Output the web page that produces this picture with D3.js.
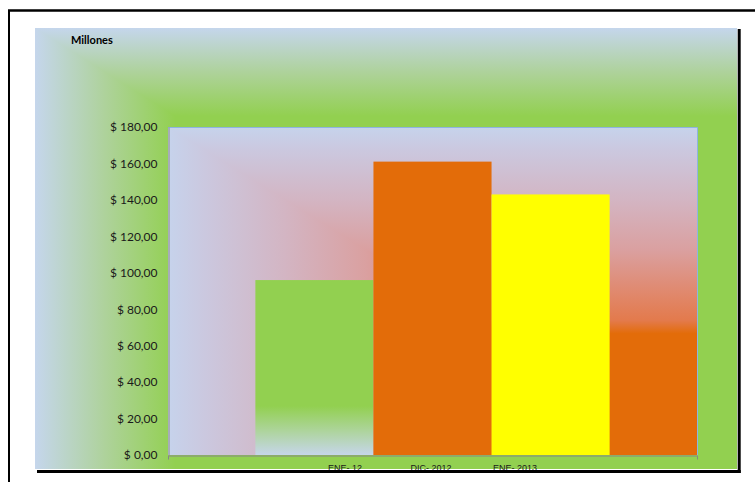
<!DOCTYPE html>
<html>
<head>
<meta charset="utf-8">
<script src="https://cdn.jsdelivr.net/npm/d3@7"></script>
<style>
  body { margin: 0; background: #fff; }
  svg { display: block; }
</style>
</head>
<body>
<svg id="chart" width="755" height="482"></svg>
<script>
// datos (millones)
var series = ["ENE- 12", "DIC- 2012", "ENE- 2013"];
var values = [96, 161, 143];
var barColors = ["#92d050", "#e36c09", "#ffff00"];
var yTicks = [0, 20, 40, 60, 80, 100, 120, 140, 160, 180];
var yTitle = "Millones";

var svg = d3.select("#chart");
var defs = svg.append("defs");

// chart area + plot area boxes
var ca = {x0: 35, y0: 28, x1: 737, y1: 469};
var pa = {x0: 168, y0: 127, x1: 697, y1: 455};

var es = d3.formatLocale({decimal: ",", thousands: ".", grouping: [3], currency: ["$ ", ""]});
var fmt = es.format("$.2f");

// rectangular gradient from bottom-right corner, done as 2 linear gradients
function rectGradient(id, box, stops) {
  var h = defs.append("linearGradient").attr("id", id + "H")
    .attr("gradientUnits", "userSpaceOnUse")
    .attr("x1", box.x1).attr("y1", 0).attr("x2", box.x0).attr("y2", 0);
  var v = defs.append("linearGradient").attr("id", id + "V")
    .attr("gradientUnits", "userSpaceOnUse")
    .attr("x1", 0).attr("y1", box.y1).attr("x2", 0).attr("y2", box.y0);
  [h, v].forEach(function(g) {
    g.selectAll("stop").data(stops).enter().append("stop")
      .attr("offset", function(d) { return d[0]; })
      .attr("stop-color", function(d) { return d[1]; });
  });
  svg.append("rect").attr("x", box.x0).attr("y", box.y0)
    .attr("width", box.x1 - box.x0).attr("height", box.y1 - box.y0)
    .attr("fill", "url(#" + id + "H)");
  svg.append("polygon")
    .attr("points", [[box.x0, box.y0], [box.x1, box.y0], [box.x1, box.y1]].join(" "))
    .attr("fill", "url(#" + id + "V)");
}

rectGradient("ca", ca, [[0, "#92d050"], [0.8, "#92d050"], [0.9, "#aed29b"], [1, "#c5d6ec"]]);
rectGradient("pa", pa, [[0, "#e36c09"], [0.37, "#e36c09"], [0.41, "#e37a4c"], [0.5, "#e0896f"],
  [0.625, "#daa0a0"], [0.78, "#d3b5c3"], [0.93, "#cbc8df"], [1, "#c6d3ec"]]);

// bar 1 fades to blue at bottom
var bg = defs.append("linearGradient").attr("id", "bar0")
  .attr("x1", 0).attr("y1", 0).attr("x2", 0).attr("y2", 1);
bg.append("stop").attr("offset", 0).attr("stop-color", "#92d050");
bg.append("stop").attr("offset", 0.72).attr("stop-color", "#92d050");
bg.append("stop").attr("offset", 0.86).attr("stop-color", "#add49b");
bg.append("stop").attr("offset", 1).attr("stop-color", "#c6d6ea");

var y = d3.scaleLinear().domain([0, 180]).range([pa.y1, pa.y0]);
var x = d3.scaleBand().domain(series).range([pa.x0, pa.x1]).paddingInner(0).paddingOuter(0.74);
var x0 = d3.scaleBand().domain(["cat"]).range([pa.x0, pa.x1]);

// plot border (top/right)
svg.append("path")
  .attr("d", "M" + pa.x0 + "," + (pa.y0 + 0.5) + "H" + (pa.x1 + 0.5) + "V" + pa.y1)
  .attr("fill", "none").attr("stroke", "#8db4e2").attr("stroke-width", 1);

svg.selectAll("rect.bar").data(values).enter().append("rect")
  .attr("class", "bar")
  .attr("x", function(d, i) { return x(series[i]); })
  .attr("width", x.bandwidth())
  .attr("y", function(d) { return y(d); })
  .attr("height", function(d) { return y(0) - y(d); })
  .attr("fill", function(d, i) { return i == 0 ? "url(#bar0)" : barColors[i]; });

// axes
var ya = svg.append("g").attr("transform", "translate(" + (pa.x0 + 0.5) + ",0)")
  .call(d3.axisLeft(y).tickValues(yTicks).tickFormat(fmt).tickSize(0).tickPadding(11));
ya.select(".domain").attr("stroke", "#868686");
ya.selectAll("text").attr("font-family", "Lato, 'Open Sans', sans-serif")
  .attr("font-size", 12).attr("fill", "#1a1a1a");

var xa = svg.append("g").attr("transform", "translate(0," + (pa.y1 + 0.5) + ")")
  .call(d3.axisBottom(x0).tickSizeInner(0).tickSizeOuter(4).tickFormat(""));
xa.select(".domain").attr("stroke", "#868686");

svg.append("text").attr("x", 71).attr("y", 44)
  .attr("font-family", "Lato, 'Open Sans', sans-serif").attr("font-size", 11)
  .attr("font-weight", "bold").attr("fill", "#000").text(yTitle);

// legend names at bottom (cut by the border)
var lx = d3.scalePoint().domain(series).range([328, 493]);
svg.selectAll("text.leg").data(series).enter().append("text")
  .attr("class", "leg")
  .attr("x", function(d) { return lx(d); }).attr("y", 471)
  .attr("font-family", "'Liberation Sans', Arial, sans-serif").attr("font-size", 9)
  .attr("fill", "#1a1a1a").text(function(d) { return d; });

// frame lines
svg.append("line").attr("x1", 8).attr("x2", 755).attr("y1", 10.5).attr("y2", 10.5)
  .attr("stroke", "#000").attr("stroke-width", 2.5);
svg.append("line").attr("x1", 9).attr("x2", 9).attr("y1", 10).attr("y2", 482)
  .attr("stroke", "#000").attr("stroke-width", 2);
svg.append("line").attr("x1", 739.2).attr("x2", 739.2).attr("y1", 29).attr("y2", 473)
  .attr("stroke", "#000").attr("stroke-width", 3);
svg.append("line").attr("x1", 37).attr("x2", 740.7).attr("y1", 471.5).attr("y2", 471.5)
  .attr("stroke", "#000").attr("stroke-width", 3);
</script>
</body>
</html>
